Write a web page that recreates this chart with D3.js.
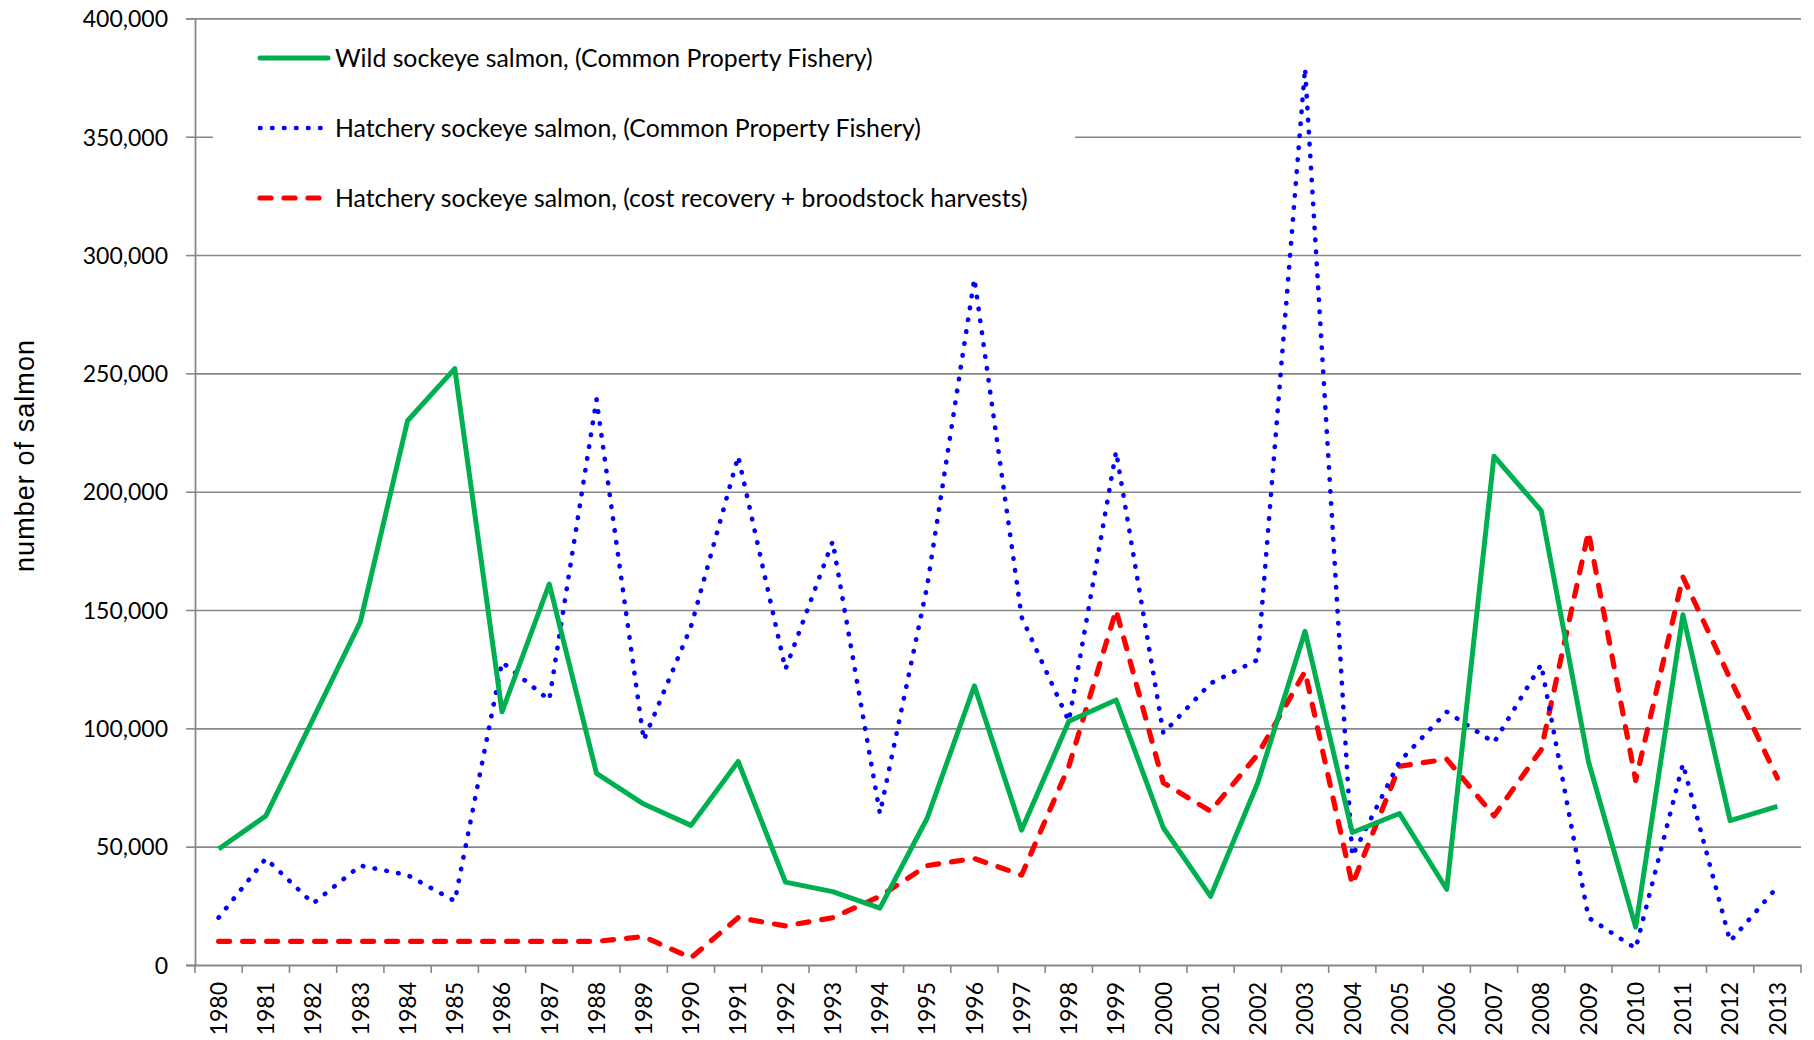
<!DOCTYPE html>
<html>
<head>
<meta charset="utf-8">
<script src="https://cdn.jsdelivr.net/npm/d3@7"></script>
<style>
  body { margin: 0; background: #fff; }
  svg { display: block; }
  .tick text, .legend text { font-family: Lato, "Open Sans", sans-serif; fill: #000; }
</style>
</head>
<body>
<svg id="chart" width="1814" height="1040"></svg>
<script>
// years on the x axis
const years = d3.range(1980, 2014).map(String);

// wild sockeye salmon, common property fishery
const wildCPF = [49000, 63000, 104000, 145000, 230000, 252000, 107000, 161000, 81000, 68000,
  59000, 86000, 35000, 31000, 24000, 62000, 118000, 57000, 103000, 112000,
  58000, 29000, 77000, 141000, 56000, 64000, 32000, 215000, 192000, 86000,
  16000, 148000, 61000, 67000];

// hatchery sockeye salmon, common property fishery
const hatcheryCPF = [20000, 45000, 26000, 42000, 38000, 27000, 128000, 112000, 239000, 95000,
  143000, 215000, 125000, 179000, 64000, 160000, 290000, 147000, 103000, 217000,
  98000, 119000, 129000, 379000, 46000, 86000, 107000, 94000, 127000, 20000,
  7000, 85000, 10000, 33000];

// hatchery sockeye salmon, cost recovery + broodstock
const hatcheryCR = [10000, 10000, 10000, 10000, 10000, 10000, 10000, 10000, 10000, 12000,
  3000, 20000, 16500, 20000, 29000, 42000, 45000, 38000, 84000, 150000,
  77000, 65000, 89000, 124000, 34000, 84000, 87000, 63000, 91000, 183000,
  78000, 164000, 121000, 79000];

const yTicks = [0, 50000, 100000, 150000, 200000, 250000, 300000, 350000, 400000];

const seriesNames = [
  "Wild sockeye salmon, (Common Property Fishery)",
  "Hatchery sockeye salmon, (Common Property Fishery)",
  "Hatchery sockeye salmon, (cost recovery + broodstock harvests)"
];

const svg = d3.select("#chart");
const plotLeft = 195, plotRight = 1801, plotTop = 18.4, plotBottom = 965;

const x = d3.scaleBand().domain(years).range([plotLeft, plotRight]);
const y = d3.scaleLinear().domain([0, 400000]).range([plotBottom, plotTop]);
const cx = d => x(d) + x.bandwidth() / 2;

// gridlines
svg.append("g")
  .attr("transform", `translate(${plotLeft},0)`)
  .call(d3.axisLeft(y).tickValues(yTicks.slice(1)).tickSize(-(plotRight - plotLeft)).tickFormat(""))
  .call(g => g.select(".domain").remove())
  .selectAll("line")
  .attr("stroke", "#888")
  .attr("stroke-width", 1.6);

// y axis
const yAxis = svg.append("g")
  .attr("transform", `translate(${plotLeft},0)`)
  .call(d3.axisLeft(y).tickValues(yTicks).tickSize(9).tickPadding(18).tickFormat(d3.format(",")));
yAxis.select(".domain").attr("stroke", "#888").attr("stroke-width", 1.8);
yAxis.selectAll("line").attr("stroke", "#888").attr("stroke-width", 1.6);
yAxis.selectAll("text").style("font-size", "23px").attr("dy", "0.36em");

// x axis with ticks on category boundaries
const xAxis = svg.append("g")
  .attr("transform", `translate(0,${plotBottom})`)
  .call(d3.axisBottom(x).tickSize(0));
xAxis.select(".domain").attr("stroke", "#888").attr("stroke-width", 1.8);
xAxis.selectAll("text")
  .style("font-size", "23px")
  .style("text-anchor", "end")
  .attr("transform", "rotate(-90)")
  .attr("x", -17)
  .attr("y", 0)
  .attr("dy", "0.36em");
xAxis.selectAll(".edge")
  .data(years.map(d => x(d)).concat([plotRight]))
  .join("line")
  .attr("class", "edge")
  .attr("x1", d => d).attr("x2", d => d)
  .attr("y1", 0).attr("y2", 8)
  .attr("stroke", "#888")
  .attr("stroke-width", 1.6);

// y axis title
svg.append("text")
  .attr("transform", `translate(34,456) rotate(-90)`)
  .attr("text-anchor", "middle")
  .attr("textLength", 232)
  .style("font-family", "'Liberation Sans', Arial, sans-serif")
  .style("font-size", "27px")
  .text("number of salmon");

const styles = [
  { color: "#00b050", width: 5, dash: null, cap: "butt" },
  { color: "#0000ff", width: 4.6, dash: "0.5,11.5", cap: "round" },
  { color: "#ff0000", width: 5.2, dash: "11,13", cap: "round" }
];

const line = d3.line().x((d, i) => cx(years[i])).y(d => y(d));

// legend box (covers part of a gridline)
const legend = svg.append("g").attr("class", "legend");
legend.append("rect")
  .attr("x", 213).attr("y", 24)
  .attr("width", 862).attr("height", 210)
  .attr("fill", "#fff");

// series, drawn red first so green sits on top
const seriesData = [wildCPF, hatcheryCPF, hatcheryCR];
[2, 1, 0].forEach(i => {
  svg.append("path")
    .datum(seriesData[i])
    .attr("d", line)
    .attr("fill", "none")
    .attr("stroke", styles[i].color)
    .attr("stroke-width", styles[i].width)
    .attr("stroke-linejoin", "round")
    .attr("stroke-linecap", styles[i].cap)
    .attr("stroke-dasharray", styles[i].dash);
});

seriesNames.forEach((name, i) => {
  const ly = 58 + i * 70;
  legend.append("line")
    .attr("x1", 260).attr("x2", i === 0 ? 328 : 321)
    .attr("y1", ly).attr("y2", ly)
    .attr("stroke", styles[i].color)
    .attr("stroke-width", styles[i].width)
    .attr("stroke-linecap", "round")
    .attr("stroke-dasharray", styles[i].dash);
  legend.append("text")
    .attr("x", 335).attr("y", ly)
    .attr("dy", "0.36em")
    .style("font-size", "24.8px")
    .text(name);
});
</script>
</body>
</html>
